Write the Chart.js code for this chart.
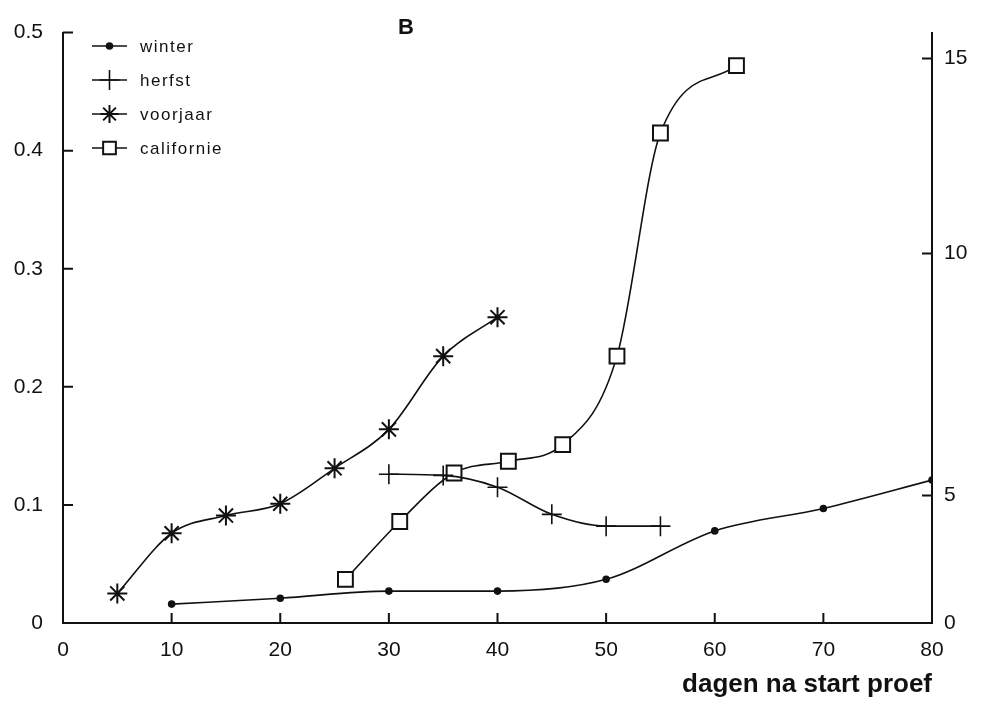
<!DOCTYPE html>
<html>
<head>
<meta charset="utf-8">
<script src="https://cdn.jsdelivr.net/npm/chart.js@4.4.1/dist/chart.umd.min.js"></script>
<style>
  html, body { margin: 0; padding: 0; background: #fff; }
  #wrap { width: 981px; height: 704px; }
</style>
</head>
<body>
<div id="wrap"><canvas id="chart"></canvas></div>
<script>
// dagen na start proef / gemeten waarden per serie
const winterX = [10, 20, 30, 40, 50, 60, 70, 80];
const winterY = [0.016, 0.021, 0.027, 0.027, 0.037, 0.078, 0.097, 0.121];
const herfstX = [30, 35, 40, 45, 50, 55];
const herfstY = [0.126, 0.125, 0.115, 0.092, 0.082, 0.082];
const voorjaarX = [5, 10, 15, 20, 25, 30, 35, 40];
const voorjaarY = [0.025, 0.076, 0.091, 0.101, 0.131, 0.164, 0.226, 0.259];
const californieX = [26, 31, 36, 41, 46, 51, 55, 62];
const californieY = [0.037, 0.086, 0.127, 0.137, 0.151, 0.226, 0.415, 0.472];

const xTicks = [0, 10, 20, 30, 40, 50, 60, 70, 80];
const leftTicks = [0, 0.1, 0.2, 0.3, 0.4, 0.5];
// rechter as: labels en hun plek op de linker schaal
const rightTickLabels = ['0', '5', '10', '15'];
const rightTickAt = [0, 0.108, 0.313, 0.478];

const toPoints = (xs, ys) => xs.map((x, i) => ({ x: x, y: ys[i] }));

const INK = '#111';
const tickFont = { family: 'Liberation Sans, Arial, sans-serif', size: 21 };

function series(label, xs, ys, style, radius, extra) {
  return Object.assign({
    label: label,
    data: toPoints(xs, ys),
    borderColor: INK,
    borderWidth: 1.6,
    pointStyle: style,
    pointRadius: radius,
    pointHoverRadius: radius,
    pointBorderColor: INK,
    pointBackgroundColor: INK,
    pointBorderWidth: 1.6,
    cubicInterpolationMode: 'monotone',
    fill: false,
  }, extra || {});
}

// korte streepjes naar binnen op de assen
const innerTicks = {
  id: 'innerTicks',
  afterDraw(chart) {
    const { ctx, chartArea, scales } = chart;
    const len = 10;
    ctx.save();
    ctx.strokeStyle = INK;
    ctx.lineWidth = 2;
    ctx.beginPath();
    xTicks.slice(1, -1).forEach((v) => {
      const px = scales.x.getPixelForValue(v);
      ctx.moveTo(px, chartArea.bottom);
      ctx.lineTo(px, chartArea.bottom - len);
    });
    leftTicks.slice(1).forEach((v) => {
      const py = scales.y.getPixelForValue(v);
      ctx.moveTo(chartArea.left, py);
      ctx.lineTo(chartArea.left + len, py);
    });
    rightTickAt.slice(1).forEach((v) => {
      const py = scales.y2.getPixelForValue(v);
      ctx.moveTo(chartArea.right, py);
      ctx.lineTo(chartArea.right - len, py);
    });
    ctx.stroke();
    ctx.restore();
  },
};

// legenda linksboven in het plotvlak, plus de letter B
const sideLegend = {
  id: 'sideLegend',
  afterDraw(chart) {
    const { ctx } = chart;
    ctx.save();
    const x0 = 92, x1 = 127, textX = 140;
    let y = 46;
    chart.data.datasets.forEach((ds) => {
      ctx.strokeStyle = INK;
      ctx.lineWidth = 1.6;
      ctx.beginPath();
      ctx.moveTo(x0, y);
      ctx.lineTo(x1, y);
      ctx.stroke();
      ctx.fillStyle = ds.pointBackgroundColor;
      ctx.strokeStyle = INK;
      ctx.lineWidth = ds.pointBorderWidth;
      Chart.helpers.drawPoint(ctx, {
        pointStyle: ds.pointStyle,
        radius: ds.legendRadius,
        borderWidth: ds.pointBorderWidth,
        rotation: 0,
      }, (x0 + x1) / 2, y);
      ctx.fillStyle = INK;
      ctx.font = '17px "Liberation Sans", Arial, sans-serif';
      ctx.letterSpacing = '1.5px';
      ctx.textBaseline = 'middle';
      ctx.textAlign = 'left';
      ctx.fillText(ds.label, textX, y + 1);
      y += 34;
    });
    ctx.letterSpacing = '0px';
    ctx.font = 'bold 22px "Liberation Sans", Arial, sans-serif';
    ctx.textAlign = 'center';
    ctx.textBaseline = 'middle';
    ctx.fillText('B', 406, 28);
    ctx.restore();
  },
};

new Chart(document.getElementById('chart'), {
  type: 'line',
  data: {
    datasets: [
      series('winter', winterX, winterY, 'circle', 3, { legendRadius: 3 }),
      series('herfst', herfstX, herfstY, 'cross', 10, { legendRadius: 10 }),
      series('voorjaar', voorjaarX, voorjaarY, 'star', 10, { pointBorderWidth: 2, legendRadius: 9 }),
      series('californie', californieX, californieY, 'rect', 10.5, {
        pointBackgroundColor: '#fff',
        pointBorderWidth: 2,
        legendRadius: 9,
      }),
    ],
  },
  options: {
    responsive: true,
    maintainAspectRatio: false,
    animation: false,
    layout: { padding: { top: 29, left: 0, right: 0, bottom: 0 } },
    plugins: {
      legend: { display: false },
      tooltip: { enabled: false },
      title: { display: false },
    },
    scales: {
      x: {
        type: 'linear',
        position: 'bottom',
        min: 0,
        max: 80,
        afterBuildTicks: (s) => { s.ticks = xTicks.map((v) => ({ value: v })); },
        afterFit: (s) => { s.height = 81; },
        ticks: { font: tickFont, color: INK, padding: 15, maxRotation: 0 },
        grid: { drawOnChartArea: false, drawTicks: false },
        border: { color: INK, width: 2 },
        title: {
          display: true,
          text: 'dagen na start proef',
          align: 'end',
          color: INK,
          font: { family: 'Liberation Sans, Arial, sans-serif', size: 26, weight: 'bold' },
          padding: { top: 6 },
        },
      },
      y: {
        type: 'linear',
        position: 'left',
        min: 0,
        max: 0.5,
        afterBuildTicks: (s) => { s.ticks = leftTicks.map((v) => ({ value: v })); },
        afterFit: (s) => { s.width = 63; },
        ticks: {
          font: tickFont,
          color: INK,
          padding: 20,
          callback: (v) => (v === 0 ? '0' : v.toFixed(1)),
        },
        grid: { drawOnChartArea: false, drawTicks: false },
        border: { color: INK, width: 2 },
      },
      y2: {
        type: 'linear',
        position: 'right',
        min: 0,
        max: 0.5,
        afterBuildTicks: (s) => { s.ticks = rightTickAt.map((v) => ({ value: v })); },
        afterFit: (s) => { s.width = 49; },
        ticks: {
          font: tickFont,
          color: INK,
          padding: 12,
          callback: (v, i) => rightTickLabels[i],
        },
        grid: { drawOnChartArea: false, drawTicks: false },
        border: { color: INK, width: 2 },
      },
    },
  },
  plugins: [innerTicks, sideLegend],
});
</script>
</body>
</html>
